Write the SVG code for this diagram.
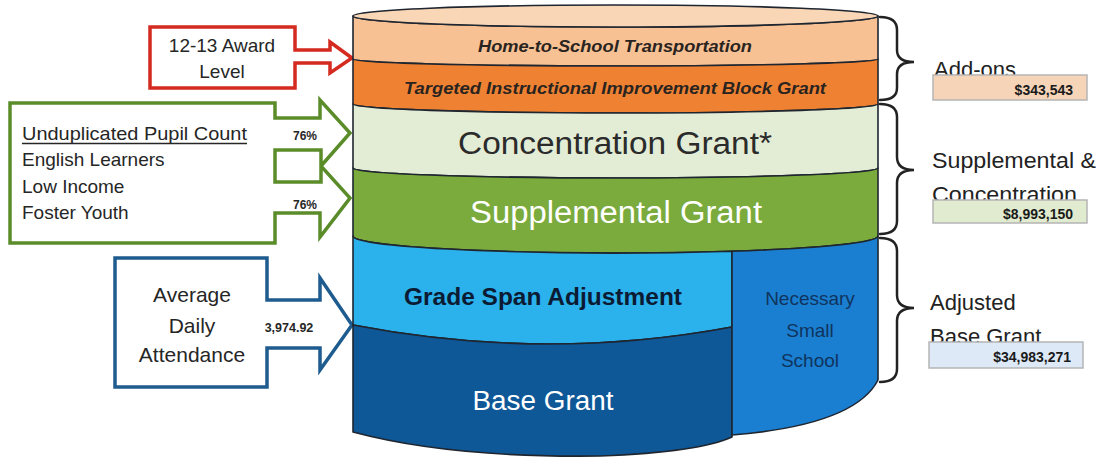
<svg xmlns="http://www.w3.org/2000/svg" width="1098" height="458" viewBox="0 0 1098 458">
<style>
.lay{stroke:#1f2630;stroke-width:1.6;stroke-linejoin:round}
.brace{fill:none;stroke:#222;stroke-width:2.5;stroke-linecap:round}
.t{font-family:"Liberation Sans",Arial,sans-serif}
.dark{fill:#262626}
.val{fill:#1a1a1a;font-weight:bold;font-size:14px;text-anchor:end}
.vbox{stroke:#b5b5b5;stroke-width:1.5}
.rl{font-size:22px;fill:#222}
</style>
<rect width="1098" height="458" fill="#ffffff"/>

<g id="connectors">
  <path id="red-arrow" d="M150,27 H295 V50 H330 V42 L352,58 L330,73 V63 H295 V88 H150 Z" fill="#fff" stroke="#d42a1f" stroke-width="3.5" stroke-linejoin="miter"/>
  <path id="green-arrows" d="M10,103 H275 V118 H320 V100 L350,133 L321,166 V150 H275 V182 H321 V166 L350,198 L320,237 V213 H275 V243 H10 Z" fill="#fff" stroke="#5b8c2a" stroke-width="3.5" stroke-linejoin="miter"/>
  <path id="blue-arrow" d="M115,258 H267 V300 H320 V278 L352,325 L320,370 V348 H267 V387 H115 Z" fill="#fff" stroke="#1e5b8e" stroke-width="3.5" stroke-linejoin="miter"/>
</g>

<g id="award-level">
  <text class="t dark" x="222" y="52" font-size="19" text-anchor="middle">12-13 Award</text>
  <text class="t dark" x="222" y="78" font-size="19" text-anchor="middle">Level</text>
</g>
<g id="pupil-count">
  <text class="t dark" x="22" y="140" font-size="19" textLength="225" lengthAdjust="spacingAndGlyphs">Unduplicated Pupil Count</text>
  <line x1="22" y1="143.5" x2="247" y2="143.5" stroke="#262626" stroke-width="1.6"/>
  <text class="t dark" x="22" y="166" font-size="19">English Learners</text>
  <text class="t dark" x="22" y="193" font-size="19">Low Income</text>
  <text class="t dark" x="22" y="219" font-size="19">Foster Youth</text>
  <text class="t dark" x="305" y="140" font-size="12" font-weight="bold" text-anchor="middle">76%</text>
  <text class="t dark" x="305" y="209" font-size="12" font-weight="bold" text-anchor="middle">76%</text>
</g>
<g id="ada">
  <text class="t dark" x="192" y="302" font-size="21" text-anchor="middle">Average</text>
  <text class="t dark" x="192" y="333" font-size="21" text-anchor="middle">Daily</text>
  <text class="t dark" x="192" y="362" font-size="21" text-anchor="middle">Attendance</text>
  <text class="t dark" x="289" y="332" font-size="12.5" font-weight="bold" text-anchor="middle">3,974.92</text>
</g>

<g id="cylinder">
  <g id="home-to-school">
    <path class="lay" d="M353,16 A262.5,11 0 0 0 878,16 L878,59 A262.5,7 0 0 1 353,59 Z" fill="#f7c194"/>
    <ellipse class="lay" cx="615.5" cy="16" rx="262.5" ry="11" fill="#f9d6b6"/>
    <text class="t" x="615" y="52" font-size="17" font-weight="bold" font-style="italic" fill="#2a2420" text-anchor="middle" textLength="274" lengthAdjust="spacingAndGlyphs">Home-to-School Transportation</text>
  </g>
  <g id="tiibg">
    <path class="lay" d="M353,59 A262.5,7 0 0 0 878,59 L878,104 A262.5,9 0 0 1 353,104 Z" fill="#ef8232"/>
    <text class="t" x="615" y="94" font-size="17" font-weight="bold" font-style="italic" fill="#2a2420" text-anchor="middle" textLength="422" lengthAdjust="spacingAndGlyphs">Targeted Instructional Improvement Block Grant</text>
  </g>
  <g id="concentration">
    <path class="lay" d="M353,104 A262.5,9 0 0 0 878,104 L878,168 A262.5,10 0 0 1 353,168 Z" fill="#e3edd5"/>
    <text class="t" x="615" y="154" font-size="31" fill="#2b2b2b" text-anchor="middle" textLength="314" lengthAdjust="spacingAndGlyphs">Concentration Grant*</text>
  </g>
  <g id="supplemental">
    <path class="lay" d="M353,168 A262.5,10 0 0 0 878,168 L878,236 A262.5,17 0 0 1 353,236 Z" fill="#7aab3c"/>
    <text class="t" x="616" y="223" font-size="31" fill="#ffffff" text-anchor="middle" textLength="292" lengthAdjust="spacingAndGlyphs">Supplemental Grant</text>
  </g>
  <g id="grade-span">
    <path class="lay" d="M353,236 A262.5,17 0 0 0 732,251.2 L732,327 Q545,362 353,325 Z" fill="#2bb1ec"/>
    <text class="t" x="543" y="305" font-size="23" font-weight="bold" fill="#0b1b33" text-anchor="middle" textLength="278" lengthAdjust="spacingAndGlyphs">Grade Span Adjustment</text>
  </g>
  <g id="base-grant">
    <path class="lay" d="M353,325 Q545,362 732,327 L732,437 Q700,452 600,456 Q450,458 353,432 Z" fill="#0e5898"/>
    <text class="t" x="543" y="410" font-size="27" fill="#ffffff" text-anchor="middle" textLength="141" lengthAdjust="spacingAndGlyphs">Base Grant</text>
  </g>
  <g id="necessary-small-school">
    <path class="lay" d="M732,251.2 A262.5,17 0 0 0 878,236 L878,380 Q855,425 732,435 Z" fill="#1a7fd0"/>
    <text class="t" x="810" y="305" font-size="19" fill="#10345e" text-anchor="middle">Necessary</text>
    <text class="t" x="810" y="337" font-size="19" fill="#10345e" text-anchor="middle">Small</text>
    <text class="t" x="810" y="367" font-size="19" fill="#10345e" text-anchor="middle">School</text>
  </g>
</g>

<g id="braces">
  <path class="brace" d="M880,17 Q897,17 897,30 V50 Q897,62 914,62 Q897,62 897,74 V88 Q897,100 880,100"/>
  <path class="brace" d="M880,104 Q897,104 897,117 V157 Q897,170 914,170 Q897,170 897,183 V221 Q897,234 880,234"/>
  <path class="brace" d="M880,238 Q897,238 897,251 V295 Q897,308 914,308 Q897,308 897,321 V369 Q897,382 880,382"/>
</g>

<g id="add-ons">
  <text class="t rl" x="934" y="77">Add-ons</text>
  <rect class="vbox" x="933" y="75" width="154" height="25" fill="#f6d4b8"/>
  <text class="t val" x="1073" y="95">$343,543</text>
</g>
<g id="supp-conc">
  <text class="t rl" x="932" y="168" textLength="164" lengthAdjust="spacingAndGlyphs">Supplemental &amp;</text>
  <text class="t rl" x="932" y="202" textLength="145" lengthAdjust="spacingAndGlyphs">Concentration</text>
  <rect class="vbox" x="933" y="200" width="154" height="23" fill="#e0ebcf"/>
  <text class="t val" x="1073" y="219">$8,993,150</text>
</g>
<g id="adjusted-base">
  <text class="t rl" x="930" y="310">Adjusted</text>
  <text class="t rl" x="930" y="344">Base Grant</text>
  <rect class="vbox" x="929" y="342" width="154" height="26" fill="#dde9f6"/>
  <text class="t val" x="1071" y="362">$34,983,271</text>
</g>
</svg>
